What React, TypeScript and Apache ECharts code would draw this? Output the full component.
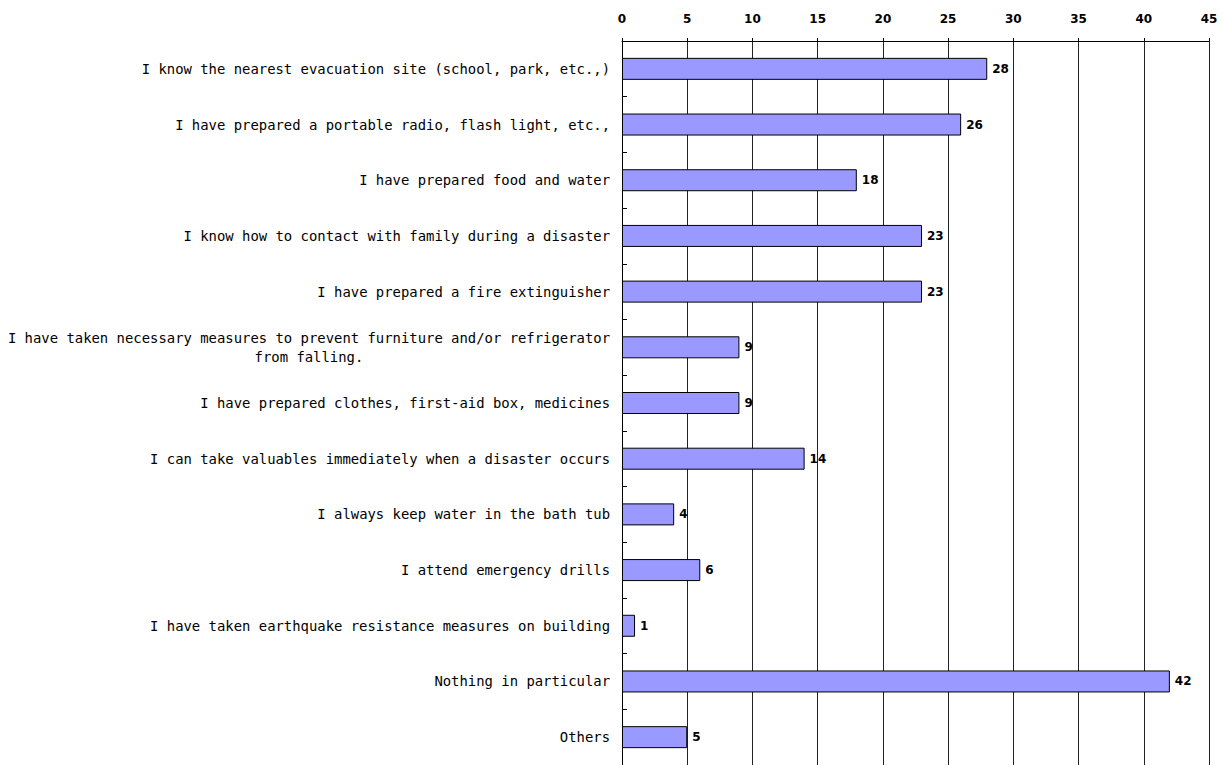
import React, { useEffect, useRef } from "react";
import * as echarts from "echarts";

const categories: string[] = [
  "I know the nearest evacuation site (school, park, etc.,)",
  "I have prepared a portable radio, flash light, etc.,",
  "I have prepared food and water",
  "I know how to contact with family during a disaster",
  "I have prepared a fire extinguisher",
  "I have taken necessary measures to prevent furniture and/or refrigerator\nfrom falling.",
  "I have prepared clothes, first-aid box, medicines",
  "I can take valuables immediately when a disaster occurs",
  "I always keep water in the bath tub",
  "I attend emergency drills",
  "I have taken earthquake resistance measures on building",
  "Nothing in particular",
  "Others",
];

const values: number[] = [28, 26, 18, 23, 23, 9, 9, 14, 4, 6, 1, 42, 5];

const xTicks = { min: 0, max: 45, interval: 5 };

const FONT = "DejaVu Sans";
const LABEL_FONT = "DejaVu Sans Mono";

export default function App() {
  const ref = useRef<HTMLDivElement>(null);
  useEffect(() => {
    if (!ref.current) return;
    const chart = echarts.init(ref.current, undefined, { renderer: "svg" });
    chart.setOption({
      animation: false,
      backgroundColor: "#ffffff",
      grid: { left: 622, right: 16, top: 41, bottom: -2, containLabel: false },
      xAxis: {
        type: "value",
        position: "top",
        min: xTicks.min,
        max: xTicks.max,
        interval: xTicks.interval,
        axisLine: { show: true, lineStyle: { color: "#000", width: 1 } },
        axisTick: { show: true, length: 3, lineStyle: { color: "#000" } },
        axisLabel: {
          color: "#000",
          fontFamily: FONT,
          fontSize: 12,
          fontWeight: "bold",
          margin: 16,
        },
        splitLine: { show: true, lineStyle: { color: "#222", width: 1 } },
      },
      yAxis: {
        type: "category",
        inverse: true,
        data: categories,
        axisLine: { show: true, lineStyle: { color: "#000", width: 1 } },
        axisTick: { show: true, inside: true, length: 5, lineStyle: { color: "#000" } },
        axisLabel: {
          color: "#000",
          fontFamily: LABEL_FONT,
          fontSize: 13.9,
          margin: 12,
          lineHeight: 19,
          formatter: (v: string) =>
            v
              .split("\n")
              .map((s) => `{c|${s}}`)
              .join("\n"),
          rich: {
            c: {
              align: "center",
              color: "#000",
              fontFamily: LABEL_FONT,
              fontSize: 13.9,
              lineHeight: 19,
            },
          },
        },
        splitLine: { show: false },
      },
      series: [
        {
          type: "bar",
          data: values,
          barWidth: 22,
          itemStyle: { color: "#9999ff", borderColor: "#000", borderWidth: 1 },
          label: {
            show: true,
            position: "right",
            distance: 5,
            color: "#000",
            fontFamily: FONT,
            fontSize: 12,
            fontWeight: "bold",
          },
        },
      ],
    });
    return () => chart.dispose();
  }, []);
  return <div ref={ref} style={{ width: 1225, height: 765, position: "absolute", left: 0, top: 0 }} />;
}
